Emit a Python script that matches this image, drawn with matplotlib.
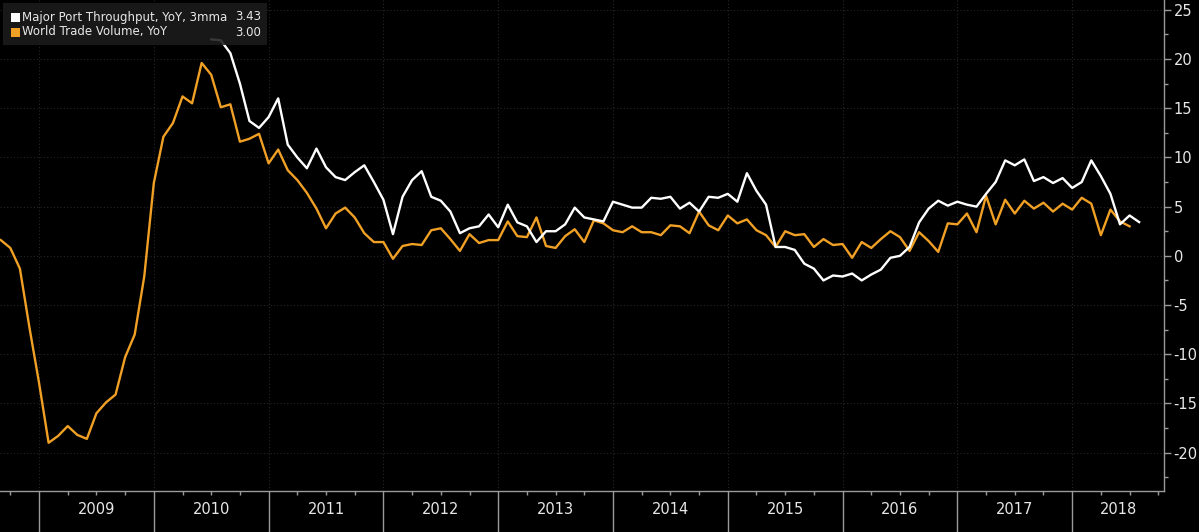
import numpy as np
import matplotlib
matplotlib.use('Agg')
import matplotlib.pyplot as plt
from matplotlib.patches import Rectangle

# months counted from Jan 2009 (0 = Jan 2009)
trade_months = np.arange(-4, 115)
trade_volume = [
    1.6, 0.8, -1.3, -7.3,
    -12.9, -19.0, -18.3, -17.3, -18.2, -18.6, -16.0, -14.9, -14.1, -10.3, -8.0, -2.1,
    7.4, 12.1, 13.5, 16.2, 15.5, 19.6, 18.4, 15.1, 15.4, 11.6, 11.9, 12.4,
    9.4, 10.8, 8.7, 7.7, 6.4, 4.8, 2.8, 4.3, 4.9, 3.9, 2.3, 1.4,
    1.4, -0.3, 1.0, 1.2, 1.1, 2.6, 2.8, 1.7, 0.5, 2.2, 1.3, 1.6,
    1.6, 3.5, 2.0, 1.9, 3.9, 1.0, 0.8, 2.0, 2.7, 1.4, 3.6, 3.3,
    2.6, 2.4, 3.0, 2.4, 2.4, 2.1, 3.1, 3.0, 2.3, 4.5, 3.1, 2.6,
    4.1, 3.3, 3.7, 2.6, 2.1, 0.9, 2.5, 2.1, 2.2, 0.9, 1.7, 1.1,
    1.2, -0.2, 1.4, 0.8, 1.7, 2.5, 1.9, 0.5, 2.4, 1.5, 0.4, 3.3,
    3.2, 4.3, 2.4, 6.1, 3.2, 5.7, 4.3, 5.6, 4.8, 5.4, 4.5, 5.3,
    4.7, 5.9, 5.3, 2.1, 4.7, 3.5, 3.00,
]

port_months = np.arange(18, 116)
port_throughput = [
    22.0, 21.9, 20.6, 17.5, 13.7, 13.0, 14.1, 16.0,
    11.3, 10.0, 8.9, 10.9, 9.0, 8.0, 7.7, 8.5, 9.2, 7.5,
    5.7, 2.2, 6.0, 7.7, 8.6, 6.0, 5.6, 4.5, 2.3, 2.8, 3.0, 4.2,
    2.9, 5.2, 3.4, 3.0, 1.4, 2.5, 2.5, 3.2, 4.9, 3.9, 3.7, 3.5,
    5.5, 5.2, 4.9, 4.9, 5.9, 5.8, 6.0, 4.8, 5.4, 4.5, 6.0, 5.9,
    6.3, 5.5, 8.4, 6.6, 5.2, 0.9, 0.9, 0.6, -0.8, -1.3, -2.5, -2.0,
    -2.1, -1.8, -2.5, -1.9, -1.4, -0.2, 0.0, 0.9, 3.4, 4.8, 5.6, 5.1,
    5.5, 5.2, 5.0, 6.3, 7.5, 9.7, 9.2, 9.8, 7.6, 8.0, 7.4, 7.9,
    6.9, 7.5, 9.7, 8.1, 6.3, 3.2, 4.1, 3.43,
]

years = ['2009', '2010', '2011', '2012', '2013', '2014', '2015', '2016', '2017', '2018']
port_label = 'Major Port Throughput, YoY, 3mma'
trade_label = 'World Trade Volume, YoY'

orange = '#F0A024'
white = '#FFFFFF'
fg = '#E8E8E8'
spine = '#9A9A9A'

W, H = 1199, 532
fig = plt.figure(figsize=(W / 100, H / 100), dpi=100, facecolor='black')
ax = fig.add_axes([0, 41 / H, 1164 / W, 1 - 41 / H], facecolor='black')

ax.plot(trade_months, trade_volume, color=orange, lw=1.7, zorder=3)
ax.plot(port_months, port_throughput, color=white, lw=1.7, zorder=4)

ax.set_xlim(-4.08, 117.6)
ax.set_ylim(-23.9, 26.0)

# y axis on the right
ax.yaxis.tick_right()
ax.set_yticks(np.arange(-20, 26, 5))
ax.set_yticklabels([str(v) for v in range(-20, 26, 5)])
ax.set_yticks(np.arange(-22.5, 26, 5), minor=True)
ax.tick_params(axis='y', which='both', colors=spine, labelcolor=fg, labelsize=10.5,
               direction='out', pad=2)
ax.tick_params(axis='y', which='major', length=5, width=1)
ax.tick_params(axis='y', which='minor', length=3, width=1)

# x axis: year separators and quarter ticks
bounds = np.arange(0, 12 * len(years), 12)
ax.set_xticks(bounds)
ax.set_xticklabels([])
ax.set_xticks([q for q in range(-3, 118, 3) if q % 12 != 0], minor=True)
ax.tick_params(axis='x', which='major', length=42, width=1, colors=spine, direction='out')
ax.tick_params(axis='x', which='minor', length=3, width=1, colors=spine, direction='out')
for i, y in enumerate(years):
    lo = bounds[i]
    hi = min(lo + 12, 117.6)
    ax.text((lo + hi) / 2, -0.037, y, transform=ax.get_xaxis_transform(),
            ha='center', va='center', color=fg, fontsize=10.5, clip_on=False)

for s in ['top', 'left']:
    ax.spines[s].set_visible(False)
for s in ['bottom', 'right']:
    ax.spines[s].set_color(spine)
    ax.spines[s].set_linewidth(1)

ax.grid(True, which='major', color='#262626', linestyle=(0, (1, 2)), linewidth=0.8)
ax.set_axisbelow(True)

# legend box (values from the data)
ax.add_patch(Rectangle((3 / W, 1 - 45 / H), 264 / W, 42 / H, transform=fig.transFigure,
                       facecolor='#1C1C1C', edgecolor='none', alpha=0.88, zorder=6))
rows = [(port_label, white, port_throughput[-1], 17),
        (trade_label, orange, trade_volume[-1], 32)]
for label, col, val, yc in rows:
    ax.add_patch(Rectangle((11 / W, 1 - (yc + 4.5) / H), 9 / W, 9 / H,
                           transform=fig.transFigure, facecolor=col, edgecolor='none', zorder=7))
    ax.text(22 / W, 1 - yc / H, label, transform=fig.transFigure, color=fg,
            fontsize=8.5, va='center', ha='left', zorder=8)
    ax.text(261 / W, 1 - yc / H, f'{val:.2f}', transform=fig.transFigure, color=fg,
            fontsize=8.5, va='center', ha='right', zorder=8)

fig.savefig('out.png', dpi=100, facecolor='black')
